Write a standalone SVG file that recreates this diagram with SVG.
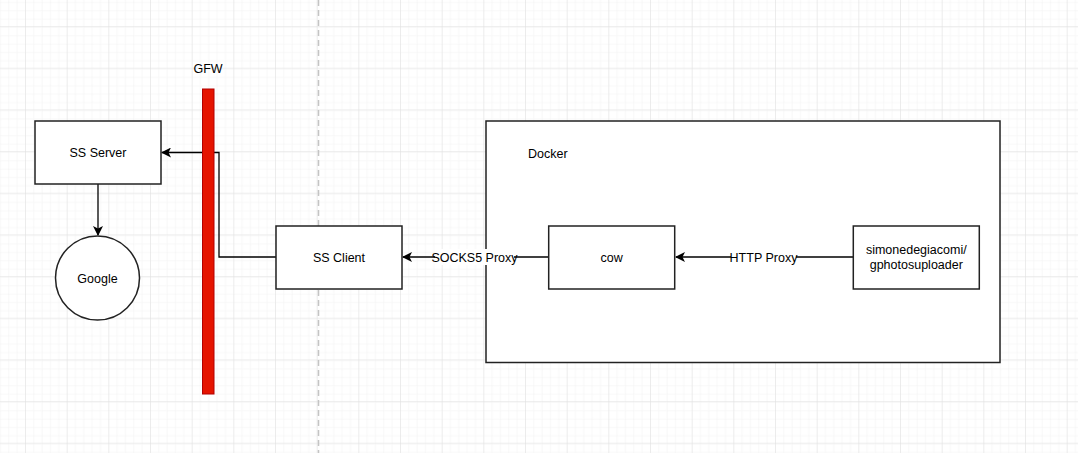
<svg xmlns="http://www.w3.org/2000/svg" width="1078" height="453" viewBox="0 0 1078 453">
  <defs>
    <pattern id="minor" x="-16.667" y="26" width="8.3333" height="8.3333" patternUnits="userSpaceOnUse">
      <path d="M 8.3333 0 L 0 0 0 8.3333" fill="none" stroke="#f1f1f1" stroke-width="1"/>
    </pattern>
    <pattern id="grid" x="-16.667" y="26" width="41.667" height="41.667" patternUnits="userSpaceOnUse">
      <rect width="41.667" height="41.667" fill="url(#minor)"/>
      <path d="M 41.667 0 L 0 0 0 41.667" fill="none" stroke="#e0e0e0" stroke-width="1"/>
    </pattern>
    <marker id="arrow" viewBox="0 0 10 10" refX="9" refY="5" markerWidth="10" markerHeight="10" markerUnits="userSpaceOnUse" orient="auto">
      <path d="M 0 0 L 10 5 L 0 10 L 2.5 5 Z" fill="#000"/>
    </marker>
    <style>
      .box { fill: #ffffff; stroke: #222222; stroke-width: 1.5; }
      .lbl { font-family: "Liberation Sans", Arial, sans-serif; font-size: 12.5px; fill: #000; text-anchor: middle; }
      .edge { fill: none; stroke: #000; stroke-width: 1.3; }
      .elbl { fill: #ffffff; }
    </style>
  </defs>

  <rect width="1078" height="453" fill="#ffffff"/>
  <rect width="1078" height="453" fill="url(#grid)"/>

  <line x1="318.5" y1="0" x2="318.5" y2="453" stroke="#c4c4c4" stroke-width="1.5" stroke-dasharray="6,4"/>

  <g id="docker">
    <rect class="box" x="486" y="121" width="514" height="241.5"/>
    <text x="528" y="157.5" font-family="Liberation Sans, Arial, sans-serif" font-size="12.5px" fill="#000">Docker</text>
  </g>

  <g id="connectors">
    <path class="edge" d="M 276 257 L 219 257 L 219 152.5 L 162 152.5" marker-end="url(#arrow)"/>
    <path class="edge" d="M 98 184 L 98 235" marker-end="url(#arrow)"/>
    <path class="edge" d="M 548.7 257 L 403 257" marker-end="url(#arrow)"/>
    <rect class="elbl" x="435" y="249" width="79" height="16"/>
    <text class="lbl" x="474.5" y="261.5">SOCKS5 Proxy</text>
    <path class="edge" d="M 853.3 257 L 676 257" marker-end="url(#arrow)"/>
    <rect class="elbl" x="731" y="249" width="65" height="16"/>
    <text class="lbl" x="763.5" y="261.5">HTTP Proxy</text>
  </g>

  <g id="gfw">
    <text class="lbl" x="208" y="72.5">GFW</text>
    <rect x="202.5" y="89" width="11.5" height="305" fill="#e51400" stroke="#b20000" stroke-width="1"/>
  </g>

  <g id="ss-server">
    <rect class="box" x="35" y="121" width="126" height="63"/>
    <text class="lbl" x="98" y="156.5">SS Server</text>
  </g>

  <g id="google">
    <circle class="box" cx="97.5" cy="278" r="42"/>
    <text class="lbl" x="97.5" y="282.5">Google</text>
  </g>

  <g id="ss-client">
    <rect class="box" x="276" y="226" width="126" height="63"/>
    <text class="lbl" x="339" y="261.5">SS Client</text>
  </g>

  <g id="cow">
    <rect class="box" x="548.7" y="226" width="126" height="63"/>
    <text class="lbl" x="611.7" y="261.5">cow</text>
  </g>

  <g id="gphotosuploader">
    <rect class="box" x="853.3" y="226" width="126" height="63"/>
    <text class="lbl" x="916.3" y="254">simonedegiacomi/</text>
    <text class="lbl" x="916.3" y="269">gphotosuploader</text>
  </g>
</svg>
